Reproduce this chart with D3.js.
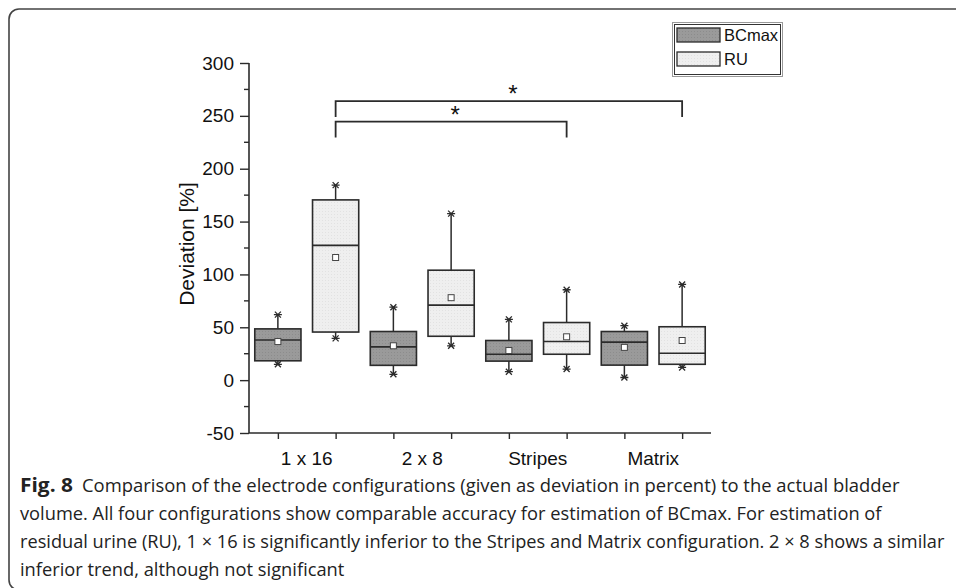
<!DOCTYPE html>
<html>
<head>
<meta charset="utf-8">
<script src="https://cdn.jsdelivr.net/npm/d3@7"></script>
<style>
  html, body { margin: 0; padding: 0; background: #fff; }
  svg { display: block; }
</style>
</head>
<body>
<svg id="chart" width="956" height="588"></svg>
<script>
// ---- data ----
const categories = ["1 x 16", "2 x 8", "Stripes", "Matrix"];
const seriesNames = ["BCmax", "RU"];

const bcmaxMin    = [15, 5.5, 8, 2.5];
const bcmaxQ1     = [18.3, 14, 18, 14.2];
const bcmaxMedian = [38, 31.5, 24.5, 36];
const bcmaxQ3     = [48.5, 46, 37.5, 46];
const bcmaxMax    = [62, 69, 57.5, 51.5];
const bcmaxMean   = [36.5, 32.5, 28, 31];

const ruMin    = [39.5, 32.5, 10.5, 12];
const ruQ1     = [45.5, 41.5, 24.5, 15];
const ruMedian = [127.5, 71, 36.5, 25.5];
const ruQ3     = [170.5, 104, 54.5, 50.5];
const ruMax    = [184.5, 157.5, 85.5, 90.5];
const ruMean   = [116, 78, 41, 37.5];

const yTicks = [-50, 0, 50, 100, 150, 200, 250, 300];
const yMinorTicks = [-25, 25, 75, 125, 175, 225, 275];

// significance brackets (box position index over all 8 boxes, 0-based)
const bracketFrom = [1, 1];
const bracketTo   = [7, 5];
const bracketY    = [264, 244.5];
const bracketDrop = [15, 15];
const bracketLabel = ["*", "*"];

const captionLines = [
  "Comparison of the electrode configurations (given as deviation in percent) to the actual bladder",
  "volume. All four configurations show comparable accuracy for estimation of BCmax. For estimation of",
  "residual urine (RU), 1 \u00d7 16 is significantly inferior to the Stripes and Matrix configuration. 2 \u00d7 8 shows a similar",
  "inferior trend, although not significant"
];

// ---- build box table ----
const boxes = [];
categories.forEach((c, i) => {
  boxes.push({cat: c, series: "BCmax", pos: 2 * i + 1, min: bcmaxMin[i], q1: bcmaxQ1[i], med: bcmaxMedian[i], q3: bcmaxQ3[i], max: bcmaxMax[i], mean: bcmaxMean[i]});
  boxes.push({cat: c, series: "RU", pos: 2 * i + 2, min: ruMin[i], q1: ruQ1[i], med: ruMedian[i], q3: ruQ3[i], max: ruMax[i], mean: ruMean[i]});
});

const fills = {BCmax: "#9a9a9a", RU: "#efefef"};
const ink = "#2b2b2b";
const axisFont = "'Liberation Sans', Arial, sans-serif";

const svg = d3.select("#chart");

// subtle dotted texture like the original fills
const defs = svg.append("defs");
Object.entries(fills).forEach(([k, c]) => {
  const p = defs.append("pattern").attr("id", "pat-" + k).attr("width", 3).attr("height", 3)
    .attr("patternUnits", "userSpaceOnUse");
  p.append("rect").attr("width", 3).attr("height", 3).attr("fill", c);
  p.append("rect").attr("x", 1).attr("y", 1).attr("width", 1).attr("height", 1)
    .attr("fill", k === "BCmax" ? "#8c8c8c" : "#e2e2e2");
});

// frame
svg.append("path")
  .attr("d", "M956,9 H19 A10,10 0 0 0 9,19 V580 A10,10 0 0 0 19,590 H956")
  .attr("fill", "none").attr("stroke", "#444").attr("stroke-width", 1.6);

const x = d3.scaleLinear().domain([0.5, 8.5]).range([249, 711]);
const y = d3.scaleLinear().domain([-50, 300]).range([433, 63]);
const boxW = x(1.8) - x(1);

const g = svg.append("g");

// y axis
const yAxis = d3.axisLeft(y).tickValues(yTicks).tickSize(9).tickPadding(6).tickFormat(d => String(d));
const ya = g.append("g").attr("transform", `translate(${x(0.5)},0)`).call(yAxis);
ya.select(".domain").attr("stroke", ink).attr("stroke-width", 1.6).attr("d", `M0,${y(300)}V${y(-50)}`);
ya.selectAll(".tick line").attr("stroke", ink).attr("stroke-width", 1.4);
ya.selectAll(".tick text").attr("font-family", axisFont).attr("font-size", 19).attr("fill", "#111");
g.append("g").attr("transform", `translate(${x(0.5)},0)`)
  .selectAll("line").data(yMinorTicks).join("line")
  .attr("x1", -5).attr("x2", 0).attr("y1", d => y(d)).attr("y2", d => y(d))
  .attr("stroke", ink).attr("stroke-width", 1.4);

// x axis
const xAxis = d3.axisBottom(x).tickValues(d3.range(1, 9)).tickSize(6).tickFormat("");
const xa = g.append("g").attr("transform", `translate(0,${y(-50)})`).call(xAxis);
xa.select(".domain").attr("stroke", ink).attr("stroke-width", 1.6).attr("d", `M${x(0.5)},0H${x(8.5)}`);
xa.selectAll(".tick line").attr("stroke", ink).attr("stroke-width", 1.4);
g.append("g").selectAll("text").data(categories).join("text")
  .attr("x", (d, i) => x(2 * i + 1.5)).attr("y", y(-50) + 32)
  .attr("text-anchor", "middle")
  .attr("font-family", axisFont).attr("font-size", 19).attr("fill", "#111")
  .text(d => d);

// y label
g.append("text")
  .attr("transform", `translate(194,${(y(300) + y(-50)) / 2 - 4}) rotate(-90)`)
  .attr("text-anchor", "middle")
  .attr("font-family", axisFont).attr("font-size", 21).attr("fill", "#111")
  .text("Deviation [%]");

// boxes
const bg = g.append("g");
const bx = bg.selectAll("g.box").data(boxes).join("g").attr("class", "box");
bx.append("line").attr("x1", d => x(d.pos)).attr("x2", d => x(d.pos))
  .attr("y1", d => y(d.max)).attr("y2", d => y(d.q3)).attr("stroke", ink).attr("stroke-width", 1.5);
bx.append("line").attr("x1", d => x(d.pos)).attr("x2", d => x(d.pos))
  .attr("y1", d => y(d.q1)).attr("y2", d => y(d.min)).attr("stroke", ink).attr("stroke-width", 1.5);
bx.append("rect")
  .attr("x", d => x(d.pos) - boxW / 2).attr("width", boxW)
  .attr("y", d => y(d.q3)).attr("height", d => y(d.q1) - y(d.q3))
  .attr("fill", d => `url(#pat-${d.series})`).attr("stroke", ink).attr("stroke-width", 1.6);
bx.append("line").attr("x1", d => x(d.pos) - boxW / 2).attr("x2", d => x(d.pos) + boxW / 2)
  .attr("y1", d => y(d.med)).attr("y2", d => y(d.med)).attr("stroke", ink).attr("stroke-width", 1.6);
bx.append("rect")
  .attr("x", d => x(d.pos) - 3).attr("y", d => y(d.mean) - 3).attr("width", 6).attr("height", 6)
  .attr("fill", "#fff").attr("stroke", "#444").attr("stroke-width", 1);

// asterisk markers at whisker ends
function star(sel, key) {
  const s = sel.append("g").attr("transform", d => `translate(${x(d.pos)},${y(d[key])})`);
  s.append("path").attr("d", "M-4,0H4M-3,-3L3,3M-3,3L3,-3")
    .attr("stroke", ink).attr("stroke-width", 1.3).attr("fill", "none");
}
star(bx, "max");
star(bx, "min");

// significance brackets
const br = g.append("g");
bracketFrom.forEach((f, k) => {
  const x1 = x(f + 1), x2 = x(bracketTo[k] + 1), yy = y(bracketY[k]), yd = y(bracketY[k] - bracketDrop[k]);
  br.append("path").attr("d", `M${x1},${yd}V${yy}H${x2}V${yd}`)
    .attr("fill", "none").attr("stroke", ink).attr("stroke-width", 1.8);
  br.append("text").attr("x", (x1 + x2) / 2 + 4).attr("y", yy + 1)
    .attr("text-anchor", "middle")
    .attr("font-family", axisFont).attr("font-size", 24).attr("fill", "#111")
    .text(bracketLabel[k]);
});

// legend
const lg = g.append("g");
lg.append("rect").attr("x", 672.5).attr("y", 22.5).attr("width", 110).attr("height", 54)
  .attr("fill", "#fff").attr("stroke", "#999").attr("stroke-width", 1);
lg.append("rect").attr("x", 674.5).attr("y", 24.5).attr("width", 106).attr("height", 50)
  .attr("fill", "none").attr("stroke", "#333").attr("stroke-width", 1);
seriesNames.forEach((s, i) => {
  lg.append("rect").attr("x", 677).attr("y", 28 + i * 24).attr("width", 43).attr("height", 14)
    .attr("fill", `url(#pat-${s})`).attr("stroke", ink).attr("stroke-width", 1.3);
  lg.append("text").attr("x", 724).attr("y", 41 + i * 24)
    .attr("font-family", axisFont).attr("font-size", 16.5).attr("fill", "#111")
    .text(s);
});

// caption (condensed humanist face, emulated by horizontal scaling)
const cap = svg.append("g").attr("font-family", "'Open Sans', 'Noto Sans', sans-serif").attr("font-size", 19).attr("fill", "#222");
const capEnds = [900, 882, 945];
const capBase = [491.5, 519.5, 547.5, 576];
const figLabel = cap.append("text").attr("font-weight", "bold").text("Fig. 8");
const figNat = figLabel.node().getComputedTextLength();
figLabel.attr("transform", `translate(20,${capBase[0]}) scale(${53 / figNat},1)`);
const ratios = [];
const capTexts = captionLines.map((t, i) => {
  const x0 = i === 0 ? 82 : 20;
  const el = cap.append("text").attr("x", 0).attr("y", 0).text(t);
  const nat = el.node().getComputedTextLength();
  if (i < capEnds.length) ratios.push((capEnds[i] - x0) / nat);
  return {el, x0, nat};
});
const meanRatio = d3.mean(ratios);
capTexts.forEach((c, i) => {
  const r = i < capEnds.length ? ratios[i] : meanRatio;
  c.el.attr("transform", `translate(${c.x0},${capBase[i]}) scale(${r},1)`);
});
</script>
</body>
</html>
